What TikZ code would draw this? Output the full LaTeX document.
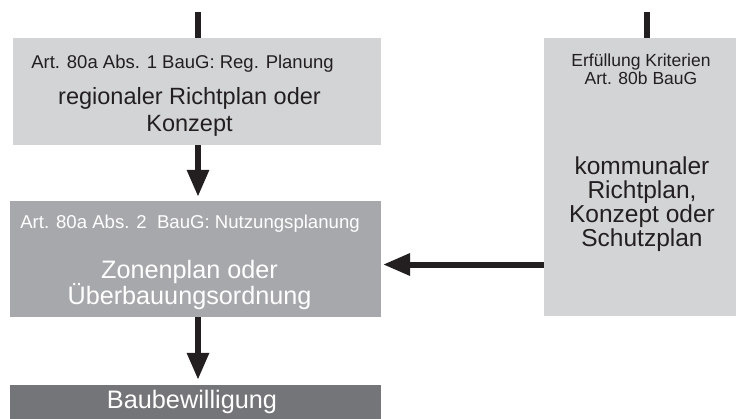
\documentclass[tikz,border=0pt]{standalone}
\usepackage{fontspec}
\setmainfont{Liberation Sans}
\usetikzlibrary{arrows.meta}
\definecolor{lightbox}{HTML}{D3D4D6}
\definecolor{midbox}{HTML}{A6A8AB}
\definecolor{darkbox}{HTML}{747578}
\definecolor{ink}{HTML}{231F20}
\tikzset{
  box/.style={fill=#1, draw=none, inner sep=0pt},
  conn/.style={draw=ink, line width=6pt},
  arr/.style={conn, -{Triangle[width=21pt,length=27pt]}},
  lbl/.style={inner sep=0pt, align=center, text=ink},
}
\begin{document}
\begin{tikzpicture}[x=1pt,y=-1pt]
\useasboundingbox (0,0) rectangle (736,418);
% boxes
\node[box=lightbox, minimum width=368pt, minimum height=107pt] (b1) at (197,91.5) {};
\node[box=midbox, minimum width=371pt, minimum height=116pt] (b2) at (195.5,259) {};
\node[box=darkbox, minimum width=371pt, minimum height=44pt] (b3) at (195.5,407) {};
\node[box=lightbox, minimum width=192pt, minimum height=278pt] (r) at (640,177) {};
% texts
\node[lbl, anchor=base, font=\fontsize{18.5}{20}\selectfont] (t1) at (182.5,68.3) {Art. 80a Abs. 1 BauG: Reg. Planung};
\node[lbl, font=\fontsize{23.5}{26.7}\selectfont] (t2) at (189.5,112.1) {regionaler Richtplan oder\\Konzept};
\node[lbl, anchor=base, text=white, font=\fontsize{18.6}{20}\selectfont] (t3) at (190,228.3) {Art. 80a Abs. 2\ \ BauG: Nutzungsplanung};
\node[lbl, text=white, font=\fontsize{25.2}{26.7}\selectfont] (t4) at (189.5,285.1) {Zonenplan oder\\Überbauungsordnung};
\node[lbl, anchor=base, text=white, font=\fontsize{25.3}{26}\selectfont] (t5) at (192,408) {Baubewilligung};
\node[lbl, font=\fontsize{17.5}{18.3}\selectfont] (t6) at (641,69.5) {Erfüllung Kriterien\\Art. 80b BauG};
\node[lbl, font=\fontsize{24.5}{24}\selectfont] (t7) at (642,204.5) {kommunaler\\Richtplan,\\Konzept oder\\Schutzplan};
% connectors
\coordinate (s1) at (198,12);
\coordinate (s2) at (647,12);
\draw[conn] (s1) -- (s1 |- b1.north);
\draw[conn] (s2) -- (s2 |- r.north);
\draw[arr] (s1 |- b1.south) -- ([yshift=4pt]s1 |- b2.north);
\draw[arr] (s1 |- b2.south) -- ([yshift=5pt]s1 |- b3.north);
\draw[arr] (r.west |- 0,264.5) -- (383,264.5);
\end{tikzpicture}
\end{document}
